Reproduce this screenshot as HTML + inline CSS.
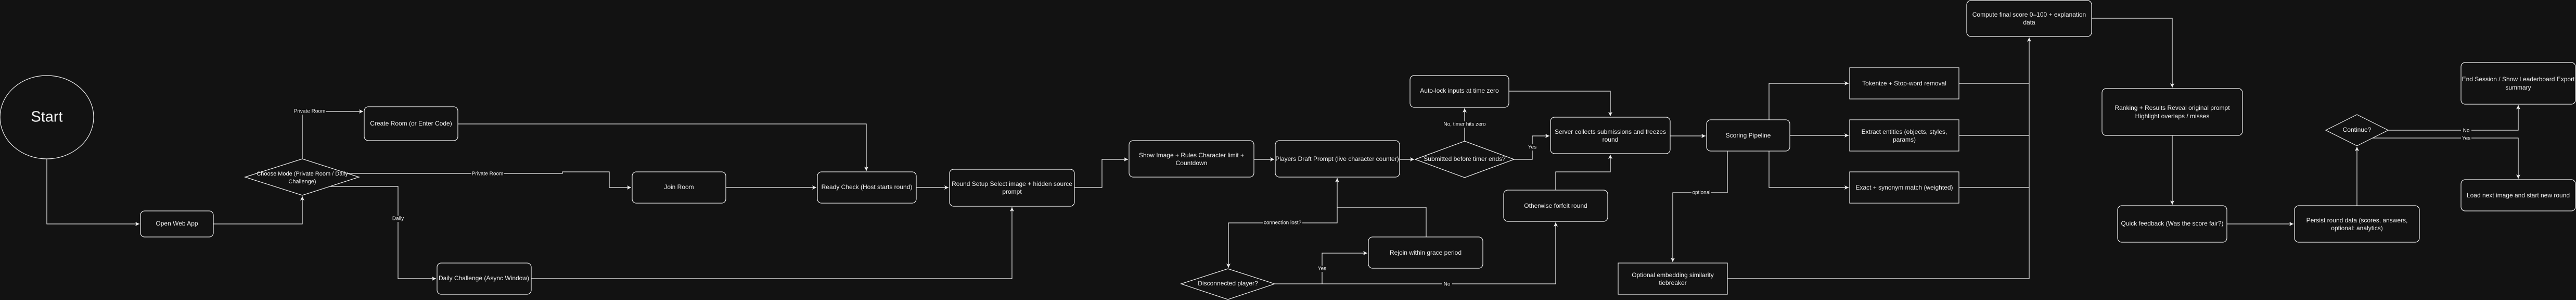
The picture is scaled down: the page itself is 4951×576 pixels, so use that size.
<!DOCTYPE html>
<html><head><meta charset="utf-8"><style>
html,body{margin:0;padding:0;background:#121212;}
svg{display:block}
text{font-family:"Liberation Sans",Arial,sans-serif;fill:#f0f0f0;}
.n{font-size:12px;text-anchor:middle;dominant-baseline:middle}
.l{font-size:10px;text-anchor:middle;dominant-baseline:middle}
.s{fill:#121212;stroke:#f0f0f0;stroke-width:1.2}
.e{fill:none;stroke:#f0f0f0;stroke-width:1.2}
</style></head><body>
<svg width="4951" height="576" viewBox="0 0 4951 576" xmlns="http://www.w3.org/2000/svg">
<defs><marker id="a" markerWidth="10" markerHeight="10" refX="8" refY="4" orient="auto" markerUnits="userSpaceOnUse"><path d="M0,0 L8,4 L0,8 L2,4 Z" fill="#f0f0f0"/></marker></defs>
<rect width="4951" height="576" fill="#121212"/>
<!-- edges -->
<g class="e">
<polyline points="90,305 90,430 268,430" marker-end="url(#a)"/>
<polyline points="410,430 581,430 581,377" marker-end="url(#a)"/>
<polyline points="581,305 581,214 698,214" marker-end="url(#a)"/>
<polyline points="635,333 1081,333 1081,330 1171,330 1171,360 1213,360" marker-end="url(#a)"/>
<polyline points="635,358 765,358 765,535 838,535" marker-end="url(#a)"/>
<polyline points="880,238 1665,238 1665,328" marker-end="url(#a)"/>
<polyline points="1395,360 1569,360" marker-end="url(#a)"/>
<polyline points="1761,360 1823,360" marker-end="url(#a)"/>
<polyline points="1021,535 1945,535 1945,398" marker-end="url(#a)"/>
<polyline points="2065,360 2118,360 2118,306 2168,306" marker-end="url(#a)"/>
<polyline points="2410,306 2449,306" marker-end="url(#a)"/>
<polyline points="2690,306 2718,306" marker-end="url(#a)"/>
<polyline points="2741,455 2741,398 2570,398 2570,342" marker-end="url(#a)"/>
<polyline points="2570,398 2570,428 2361,428 2361,514" marker-end="url(#a)"/>
<polyline points="2450,545 2541,545 2541,486 2628,486" marker-end="url(#a)"/>
<polyline points="2541,545 2990,545 2990,427" marker-end="url(#a)"/>
<polyline points="2815,271 2815,208" marker-end="url(#a)"/>
<polyline points="2910,306 2945,306 2945,261 2978,261" marker-end="url(#a)"/>
<polyline points="2900,175 3095,175 3095,223" marker-end="url(#a)"/>
<polyline points="2990,365 2990,330 3095,330 3095,297" marker-end="url(#a)"/>
<polyline points="3210,261 3278,261" marker-end="url(#a)"/>
<polyline points="3320,290 3320,370 3215,370 3215,503" marker-end="url(#a)"/>
<polyline points="3400,230 3400,160 3553,160" marker-end="url(#a)"/>
<polyline points="3440,260 3553,260" marker-end="url(#a)"/>
<polyline points="3400,290 3400,360 3553,360" marker-end="url(#a)"/>
<polyline points="3765,160 3900,160"/>
<polyline points="3765,260 3900,260"/>
<polyline points="3765,360 3900,360"/>
<polyline points="3320,535 3900,535 3900,72" marker-end="url(#a)"/>
<polyline points="4020,35 4175,35 4175,168" marker-end="url(#a)"/>
<polyline points="4175,260 4175,393" marker-end="url(#a)"/>
<polyline points="4280,430 4408,430" marker-end="url(#a)"/>
<polyline points="4530,395 4530,282" marker-end="url(#a)"/>
<polyline points="4590,250 4840,250 4840,202" marker-end="url(#a)"/>
<polyline points="4560,265 4840,265 4840,343" marker-end="url(#a)"/>
</g>
<!-- nodes -->
<ellipse class="s" cx="90" cy="225" rx="90" ry="80"/>
<text class="n" x="90" y="226" style="font-size:29px">Start</text>
<rect class="s" x="270" y="405" width="140" height="50" rx="8"/>
<text class="n" x="340" y="430">Open Web App</text>
<polygon class="s" points="471,340 581,305 690,340 581,375"/>
<text class="n" x="581" y="334" style="font-size:11px">Choose Mode (Private Room / Daily</text>
<text class="n" x="581" y="349" style="font-size:11px">Challenge)</text>
<rect class="s" x="700" y="205" width="180" height="65" rx="8"/>
<text class="n" x="790" y="238">Create Room (or Enter Code)</text>
<rect class="s" x="1215" y="330" width="180" height="60" rx="8"/>
<text class="n" x="1305" y="360">Join Room</text>
<rect class="s" x="1571" y="330" width="190" height="60" rx="8"/>
<text class="n" x="1666" y="360">Ready Check (Host starts round)</text>
<rect class="s" x="840" y="505" width="181" height="60" rx="8"/>
<text class="n" x="930" y="535">Daily Challenge (Async Window)</text>
<rect class="s" x="1825" y="325" width="240" height="71" rx="8"/>
<text class="n" x="1945" y="354">Round Setup Select image + hidden source</text>
<text class="n" x="1945" y="369">prompt</text>
<rect class="s" x="2170" y="270" width="240" height="70" rx="8"/>
<text class="n" x="2290" y="299">Show Image + Rules Character limit +</text>
<text class="n" x="2290" y="314">Countdown</text>
<rect class="s" x="2451" y="270" width="239" height="70" rx="8"/>
<text class="n" x="2570" y="306">Players Draft Prompt (live character counter)</text>
<polygon class="s" points="2270,545 2360,516 2450,545 2360,575"/>
<text class="n" x="2360" y="545">Disconnected player?</text>
<rect class="s" x="2630" y="455" width="220" height="60" rx="8"/>
<text class="n" x="2740" y="486">Rejoin within grace period</text>
<polygon class="s" points="2720,306 2815,271 2910,306 2815,341"/>
<text class="n" x="2815" y="306">Submitted before timer ends?</text>
<rect class="s" x="2710" y="145" width="190" height="61" rx="8"/>
<text class="n" x="2805" y="175">Auto-lock inputs at time zero</text>
<rect class="s" x="2980" y="225" width="230" height="70" rx="8"/>
<text class="n" x="3095" y="254">Server collects submissions and freezes</text>
<text class="n" x="3095" y="269">round</text>
<rect class="s" x="2890" y="365" width="200" height="60" rx="8"/>
<text class="n" x="2990" y="396">Otherwise forfeit round</text>
<rect class="s" x="3280" y="230" width="160" height="60" rx="8"/>
<text class="n" x="3360" y="261">Scoring Pipeline</text>
<rect class="s" x="3110" y="505" width="210" height="60"/>
<text class="n" x="3215" y="529">Optional embedding similarity</text>
<text class="n" x="3215" y="544">tiebreaker</text>
<rect class="s" x="3555" y="130" width="210" height="60"/>
<text class="n" x="3660" y="161">Tokenize + Stop-word removal</text>
<rect class="s" x="3555" y="230" width="210" height="60"/>
<text class="n" x="3660" y="254">Extract entities (objects, styles,</text>
<text class="n" x="3660" y="269">params)</text>
<rect class="s" x="3555" y="330" width="210" height="60"/>
<text class="n" x="3660" y="361">Exact + synonym match (weighted)</text>
<rect class="s" x="3780" y="1" width="240" height="69" rx="8"/>
<text class="n" x="3900" y="29">Compute final score 0–100 + explanation</text>
<text class="n" x="3900" y="44">data</text>
<rect class="s" x="4040" y="170" width="270" height="90" rx="8"/>
<text class="n" x="4175" y="208">Ranking + Results Reveal original prompt</text>
<text class="n" x="4175" y="224">Highlight overlaps / misses</text>
<rect class="s" x="4070" y="395" width="210" height="70" rx="8"/>
<text class="n" x="4175" y="430">Quick feedback (Was the score fair?)</text>
<rect class="s" x="4410" y="395" width="240" height="70" rx="8"/>
<text class="n" x="4530" y="424">Persist round data (scores, answers,</text>
<text class="n" x="4530" y="439">optional: analytics)</text>
<polygon class="s" points="4470,250 4530,220 4590,250 4530,280"/>
<text class="n" x="4530" y="250">Continue?</text>
<rect class="s" x="4730" y="120" width="220" height="80" rx="8"/>
<text class="n" x="4840" y="153">End Session / Show Leaderboard Export</text>
<text class="n" x="4840" y="169">summary</text>
<rect class="s" x="4730" y="345" width="220" height="60" rx="8"/>
<text class="n" x="4840" y="376">Load next image and start new round</text>
<!-- edge labels -->
<g>
<rect x="564" y="208" width="62" height="12" fill="#121212"/><text class="l" x="595" y="214">Private Room</text>
<rect x="906" y="328" width="62" height="12" fill="#121212"/><text class="l" x="937" y="334">Private Room</text>
<rect x="752" y="414" width="26" height="12" fill="#121212"/><text class="l" x="765" y="420">Daily</text>
<rect x="2427" y="422" width="76" height="12" fill="#121212"/><text class="l" x="2465" y="428">connection lost?</text>
<rect x="2531" y="510" width="20" height="12" fill="#121212"/><text class="l" x="2541" y="516">Yes</text>
<rect x="2771" y="540" width="20" height="12" fill="#121212"/><text class="l" x="2781" y="546">No</text>
<rect x="2772" y="233" width="86" height="12" fill="#121212"/><text class="l" x="2815" y="239">No, timer hits zero</text>
<rect x="2935" y="277" width="20" height="12" fill="#121212"/><text class="l" x="2945" y="283">Yes</text>
<rect x="3251" y="364" width="38" height="12" fill="#121212"/><text class="l" x="3270" y="370">optional</text>
<rect x="4730" y="244" width="20" height="12" fill="#121212"/><text class="l" x="4740" y="251">No</text>
<rect x="4730" y="259" width="20" height="12" fill="#121212"/><text class="l" x="4740" y="266">Yes</text>
</g>
</svg>
</body></html>
